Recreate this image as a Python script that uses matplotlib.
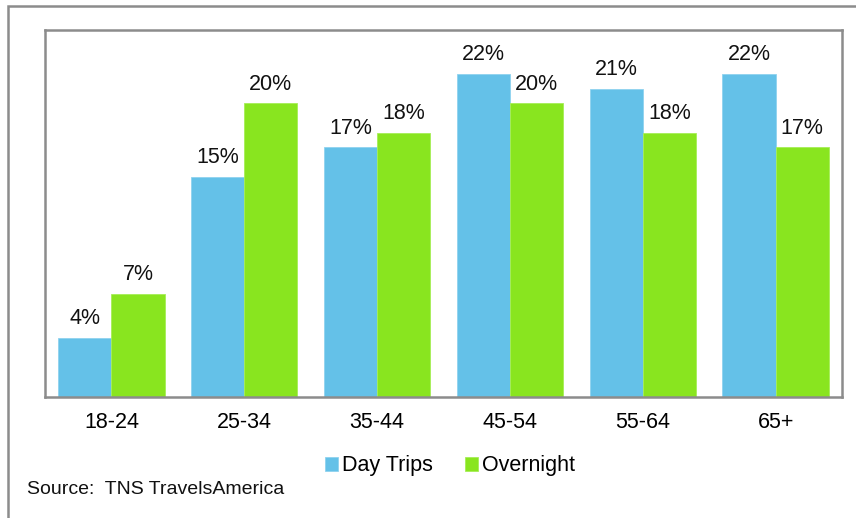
import matplotlib.pyplot as plt
import numpy as np
from matplotlib.patches import Rectangle

plt.rcParams['font.family'] = ['Liberation Sans', 'DejaVu Sans']

# Доля поездок по возрастным группам, %
ages = ['18-24', '25-34', '35-44', '45-54', '55-64', '65+']
day_trips = [4, 15, 17, 22, 21, 22]
overnight = [7, 20, 18, 20, 18, 17]

blue = '#64c1e8'
green = '#89e51f'

fig = plt.figure(figsize=(8.56, 5.18), dpi=100)
W, H = 856, 518

# рамка вокруг всей картинки
fig.patches.append(Rectangle((8 / W, 0 - 0.05), 1.1, (H - 6) / H + 0.05,
                             transform=fig.transFigure, fill=False,
                             edgecolor='#8c8c8c', linewidth=1.8))

ax = fig.add_axes([45 / W, 1 - 397 / H, (842 - 45) / W, (397 - 30) / H])

x = np.arange(len(ages))
w = 0.4
b1 = ax.bar(x - w / 2, day_trips, w, color=blue, edgecolor='#8fd2ef',
            linewidth=0.6, label='Day Trips')
b2 = ax.bar(x + w / 2, overnight, w, color=green, edgecolor='#a6ee57',
            linewidth=0.6, label='Overnight')

for bars, vals in ((b1, day_trips), (b2, overnight)):
    for rect, v in zip(bars, vals):
        ax.annotate('%d%%' % v, (rect.get_x() + rect.get_width() / 2, v),
                    xytext=(0, 10), textcoords='offset points',
                    ha='center', va='baseline', fontsize=15.5, color='#111111')

ax.set_xlim(-0.5, len(ages) - 0.5)
ax.set_ylim(0, 25)
ax.set_yticks([])
ax.set_xticks(x)
ax.set_xticklabels(ages, fontsize=15.5)
ax.tick_params(axis='x', length=0, pad=11)
for s in ax.spines.values():
    s.set_color('#8c8c8c')
    s.set_linewidth(1.8)

fig.legend(loc='center', bbox_to_anchor=(450 / W, 1 - 466 / H), ncol=2,
           frameon=False, fontsize=15.5, handlelength=0.6, handleheight=0.6,
           handletextpad=0.2, columnspacing=1.5)

fig.text(27 / W, 1 - 489 / H, 'Source:  TNS TravelsAmerica', fontsize=14,
         va='center', ha='left', color='#111111')

fig.savefig('out.png', dpi=100)
